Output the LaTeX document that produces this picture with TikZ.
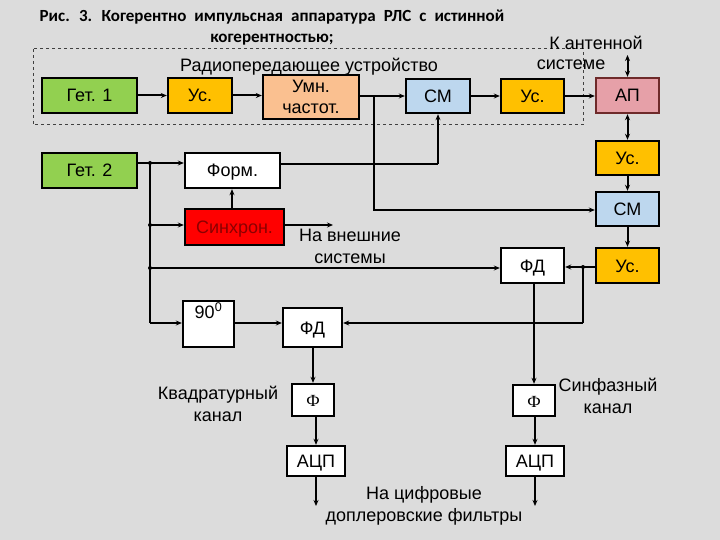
\documentclass[tikz,border=0pt]{standalone}
\usepackage{fontspec}
\setmainfont{Liberation Sans}
\newfontfamily\titlefont{Carlito}
\newfontfamily\serifphi{Liberation Serif}
\usetikzlibrary{arrows.meta,calc}
\definecolor{bg}{HTML}{DCDCDC}
\definecolor{getc}{HTML}{92D050}
\definecolor{usc}{HTML}{FFC000}
\definecolor{umnc}{HTML}{FAC090}
\definecolor{cmc}{HTML}{BDD7EE}
\definecolor{apc}{HTML}{E6A0A8}
\definecolor{apb}{HTML}{6E2A2A}
\definecolor{syncc}{HTML}{FF0000}
\definecolor{synct}{HTML}{8B0000}
\begin{document}
\begin{tikzpicture}[x=1pt,y=-1pt,
  box/.style={draw=black,line width=2.4pt,inner sep=0pt,
    font=\fontsize{18}{19}\selectfont},
  onel/.style={text height=13pt,text depth=0pt},
  conn/.style={line width=2pt,-{Stealth[length=6pt,width=5pt]}},
  dconn/.style={line width=2pt,{Stealth[length=6pt,width=5pt]}-{Stealth[length=6pt,width=5pt]}},
  plain/.style={line width=2pt},
  lbl/.style={align=center,inner sep=0pt,font=\fontsize{18}{22}\selectfont},
  dotj/.style={circle,fill=black,inner sep=0pt,minimum size=4pt}]
\fill[bg] (0,0) rectangle (720,540);
\useasboundingbox (0,0) rectangle (720,540);
% title
\node[align=center,inner sep=0pt,font=\titlefont\bfseries\fontsize{17}{21}\selectfont] (title) at (272,27.5)
  {\spaceskip=8pt plus 1pt\relax Рис. 3. Когерентно импульсная аппаратура РЛС с истинной\\когерентностью;};
% dashed frame
\draw[line width=1pt,dashed,black!75] (33,49) rectangle (583,125);
\node[lbl] (radio) at (309,67) {Радиопередающее устройство};
\node[lbl] (kant) at (596,43) {К антенной};
\node[lbl] (sist) at (571,65) {системе};
% top row
\node[box,onel,fill=getc,minimum width=95pt,minimum height=35pt] (get1) at (89.5,95.5) {Гет. 1};
\node[box,onel,fill=usc,minimum width=64pt,minimum height=35pt] (us1) at (200,95.5) {Ус.};
\node[box,fill=umnc,minimum width=96pt,minimum height=44pt,align=center,font=\fontsize{18}{21}\selectfont] (umn) at (311,97) {Умн.\\частот.};
\node[box,onel,fill=cmc,minimum width=64pt,minimum height=34pt] (cm1) at (438,96) {СМ};
\node[box,onel,fill=usc,minimum width=63pt,minimum height=34pt] (us2) at (532.5,96) {Ус.};
\node[box,onel,fill=apc,draw=apb,minimum width=63pt,minimum height=35pt] (ap) at (627.5,95.5) {АП};
% right column
\node[box,onel,fill=usc,minimum width=63pt,minimum height=34pt] (usr1) at (627.5,158) {Ус.};
\node[box,onel,fill=cmc,minimum width=63pt,minimum height=34pt] (cmr) at (627.5,209) {СМ};
\node[box,onel,fill=usc,minimum width=63pt,minimum height=35pt] (usr2) at (627.5,265.5) {Ус.};
\node[box,onel,fill=white,minimum width=63pt,minimum height=35pt] (fdr) at (532.5,265.5) {ФД};
% left column
\node[box,onel,fill=getc,minimum width=95pt,minimum height=35pt] (get2) at (89.5,170.5) {Гет. 2};
\node[box,onel,fill=white,minimum width=95pt,minimum height=35pt] (form) at (232.5,170.5) {Форм.};
\node[box,onel,fill=syncc,text=synct,minimum width=99pt,minimum height=36pt] (sync) at (234.5,227) {Синхрон.};
\node[box,fill=white,minimum width=51pt,minimum height=46pt,text height=14pt,text depth=26pt] (deg) at (208.5,324) {90\textsuperscript{0}};
\node[box,onel,fill=white,minimum width=59pt,minimum height=39pt] (fdl) at (312.5,327.5) {ФД};
\node[box,onel,fill=white,minimum width=42pt,minimum height=32pt,font=\serifphi\fontsize{17}{18}\selectfont] (phil) at (313,400) {Ф};
\node[box,onel,fill=white,minimum width=58pt,minimum height=30pt] (adcl) at (316,461) {АЦП};
\node[box,onel,fill=white,minimum width=42pt,minimum height=31pt,font=\serifphi\fontsize{17}{18}\selectfont] (phir) at (534,400.5) {Ф};
\node[box,onel,fill=white,minimum width=58pt,minimum height=30pt] (adcr) at (535,461) {АЦП};
% labels
\node[lbl] (ext) at (350,246) {На внешние\\системы};
\node[lbl] (quad) at (218,404) {Квадратурный\\канал};
\node[lbl] (inph) at (608,396) {Синфазный\\канал};
\node[lbl] (dig) at (424,505.5) {На цифровые\\доплеровские фильтры};
% coordinates
\coordinate (j1) at (150,163);
\coordinate (j2) at (150,225);
\coordinate (j3) at (150,268);
\coordinate (j4) at (374,96);
\coordinate (j5) at (583,267);
\coordinate (b1) at (150,323);
\coordinate (b4) at (374,210);
\coordinate (b5) at (583,323);
\coordinate (fm) at (438,164);
\coordinate (extend) at (333,225);
\coordinate (antt) at (627.5,55);
\coordinate (outl) at (316,506);
\coordinate (outr) at (535,506);
% connectors top row
\draw[conn] (get1.east) -- (us1.west);
\draw[conn] (us1.east) -- (umn.west |- us1.east);
\draw[conn] (umn.east |- j4) -- (cm1.west |- j4);
\draw[conn] (cm1.east) -- (us2.west);
\draw[conn] (us2.east) -- (ap.west |- us2.east);
\draw[dconn] (ap.north) -- (antt);
\draw[dconn] (ap.south) -- (usr1.north);
\draw[conn] (usr1.south) -- (cmr.north);
\draw[conn] (cmr.south) -- (usr2.north);
\draw[conn] (j4) -- (b4) -- (cmr.west |- b4);
% form to CM
\draw[plain] (form.east |- fm) -- (fm);
\draw[conn] (fm) -- (cm1.south);
% left bus
\draw[conn] (get2.east |- j1) -- (form.west |- j1);
\draw[plain] (j1) -- (b1);
\draw[conn] (b1) -- (deg.west |- b1);
\draw[conn] (j2) -- (sync.west |- j2);
\draw[conn] (j3) -- (fdr.west |- j3);
\draw[conn] (sync.north -| 232,0) -- (form.south -| 232,0);
\draw[conn] (sync.east |- extend) -- (extend);
% right FD
\draw[conn] (usr2.west |- j5) -- (fdr.east |- j5);
\draw[plain] (j5) -- (b5);
\draw[conn] (b5) -- (fdl.east |- b5);
\draw[conn] (deg.east |- b1) -- (fdl.west |- b1);
% channels
\draw[conn] (fdl.south -| phil.north) -- (phil.north);
\draw[conn] (phil.south -| 316,0) -- (adcl.north);
\draw[conn] (adcl.south) -- (outl);
\draw[conn] (fdr.south -| phir.north) -- (phir.north);
\draw[conn] (phir.south -| 535,0) -- (adcr.north);
\draw[conn] (adcr.south) -- (outr);
% junction dots
\node[dotj] (d1) at (j1) {};
\node[dotj] (d2) at (j2) {};
\node[dotj] (d3) at (j3) {};
\node[dotj] (d5) at (j5) {};
\end{tikzpicture}
\end{document}
